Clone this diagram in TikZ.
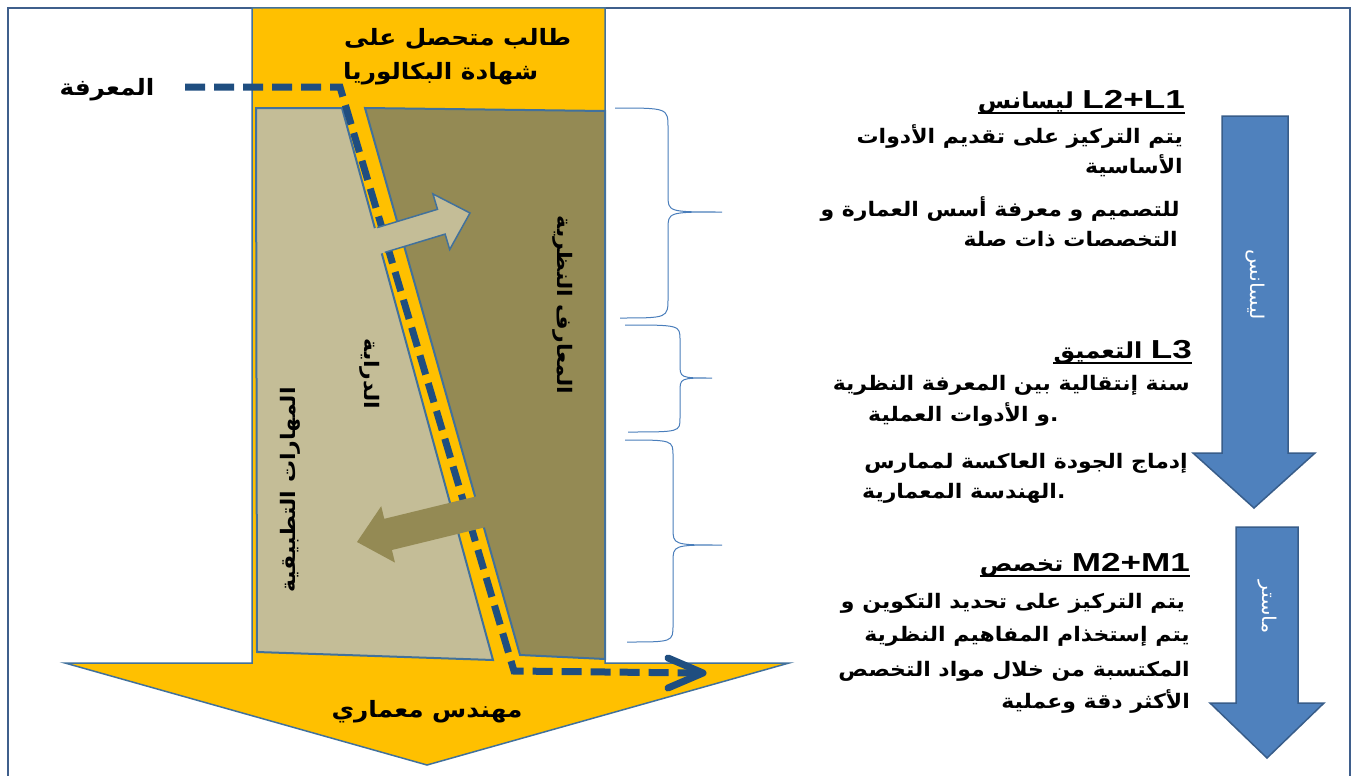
\documentclass[tikz,border=0pt]{standalone}
\usepackage{fontspec}
\setmainfont{Liberation Sans}
\TeXXeTstate=1
\newfontfamily\arb[Script=Arabic,FakeStretch=1.1]{DejaVu Sans Bold}
\newfontfamily\arr[Script=Arabic,FakeStretch=1.1]{DejaVu Sans}
\newfontfamily\latb[FakeStretch=1.35]{Liberation Sans Bold}
\newcommand\rtl[1]{\beginR #1\endR}
\newcommand\lat[1]{\beginL{\latb\fontsize{26}{30}\selectfont #1}\endL}
\definecolor{yel}{HTML}{FFC000}
\definecolor{bord}{HTML}{41719C}
\definecolor{framec}{HTML}{3F5F8C}
\definecolor{tanl}{HTML}{C4BD97}
\definecolor{tand}{HTML}{948A54}
\definecolor{dashc}{HTML}{1F4E80}
\definecolor{barrow}{HTML}{4F81BD}
\definecolor{barrowb}{HTML}{385D8A}
\definecolor{bracec}{HTML}{4A7EBB}
\tikzset{
  txt/.style={inner sep=0pt, font=\arb\fontsize{20}{24}\selectfont},
  hdr/.style={inner sep=0pt, font=\arb\fontsize{22}{26}\selectfont},
  ttl/.style={inner sep=0pt, font=\arb\fontsize{22.5}{26}\selectfont},
  lbl/.style={inner sep=0pt, font=\arb\fontsize{22.5}{26}\selectfont},
  rot/.style={inner sep=0pt, font=\arb\fontsize{20}{24}\selectfont},
  wl/.style={inner sep=0pt, text=white, font=\arr\fontsize{19}{22}\selectfont},
  uline/.style={black, line width=1.6pt},
  brc/.style={bracec, line width=1pt},
  dline/.style={dashc, line width=7pt, dash pattern=on 20pt off 9pt},
  barr/.style={fill=barrow, draw=barrowb, line width=1.5pt},
}
\begin{document}
\begin{tikzpicture}[x=1pt,y=-1pt]
\useasboundingbox (0,0) rectangle (1354,776);
\fill[white] (0,0) rectangle (1354,776);
% outer frame
\draw[framec, line width=2.5pt] (8,776) -- (8,8) -- (1350,8) -- (1350,776);
% yellow column with big arrow
\filldraw[fill=yel, draw=bord, line width=1.5pt] (252,8) -- (605,8) -- (605,663) -- (789,663) -- (427,765) -- (65,663) -- (252,663) -- cycle;
% polygons
\filldraw[fill=tanl, draw=bord, line width=2pt] (256,108) -- (342,108) -- (493,660) -- (257,652) -- cycle;
\filldraw[fill=tand, draw=bord, line width=2pt] (365,108) -- (605,111) -- (605,659) -- (520,655) -- cycle;
% dashed path
\coordinate (ds) at (185,87);
\coordinate (d1) at (340,87);
\coordinate (d2) at (514,671);
\coordinate (d3) at (697,673);
\coordinate (de) at (703,673);
\draw[dline] (ds) -- (d1) -- (d2) -- (d3);
\draw[dashc, line width=7pt, line cap=round, line join=round] (668,658) -- (de) -- (668,688);
% light arrow (to the right)
\fill[tanl] (371.5,229.3) -- (437.5,209.3) -- (432.9,193.9) -- (470,213) -- (449.7,249.5) -- (445.1,234.1) -- (379.1,254.1) -- cycle;
\draw[bord, line width=1.5pt, line join=miter] (377.2,227.6) -- (437.5,209.3) -- (432.9,193.9) -- (470,213) -- (449.7,249.5) -- (445.1,234.1) -- (384.8,252.4);
% dark arrow (to the left)
\fill[tand] (485.1,494.2) -- (384.3,518.8) -- (381.2,506.2) -- (357,542) -- (395.0,562.6) -- (391.9,550.0) -- (492.7,525.4) -- cycle;
% rotated labels
\node[rot, rotate=-90] (nadh) at (563,305) {\rtl{المعارف النظرية}};
\node[rot, rotate=-90] (dir) at (370,374) {\rtl{الدراية}};
\node[rot, rotate=90] (mah) at (290,490) {\rtl{المهارات التطبيقية}};
% title texts
\node[ttl, anchor=base west] (t1) at (344,46) {\rtl{طالب متحصل على}};
\node[ttl, anchor=base west] (t2) at (343,80) {\rtl{شهادة البكالوريا}};
\node[lbl, anchor=base] (maa) at (107,95) {\rtl{المعرفة}};
\node[ttl, anchor=base] (muh) at (427,717) {\rtl{مهندس معماري}};
% braces
\draw[brc] (615,108) .. controls (668,108) .. (668,128) -- (668,195) .. controls (668,212) .. (722,212) .. controls (668,212) .. (668,229) -- (668,298) .. controls (668,318) .. (620,318);
\draw[brc] (625,325) .. controls (680,325) .. (680,340) -- (680,364) .. controls (680,378) .. (712,378) .. controls (680,378) .. (680,392) -- (680,418) .. controls (680,432) .. (628,432);
\draw[brc] (625,440) .. controls (673,440) .. (673,456) -- (673,528) .. controls (673,545) .. (722,545) .. controls (673,545) .. (673,562) -- (673,625) .. controls (673,642) .. (627,642);
% blue arrows
\filldraw[barr] (1222,116) -- (1288,116) -- (1288,453) -- (1315,453) -- (1254,508) -- (1193,453) -- (1222,453) -- cycle;
\filldraw[barr] (1236,527) -- (1298,527) -- (1298,703) -- (1324,703) -- (1267,758) -- (1210,703) -- (1236,703) -- cycle;
\node[wl, rotate=-90] (lis) at (1255,285) {\rtl{ليسانس}};
\node[wl, rotate=-90] (mas) at (1267,607) {\rtl{ماستر}};
% block 1
\node[hdr, anchor=base east] (h1) at (1185,108) {\rtl{\lat{L2+L1} ليسانس}};
\draw[uline] ([yshift=-5pt]h1.base west) -- ([yshift=-5pt]h1.base east);
\node[txt, anchor=base east] (a1) at (1183,143) {\rtl{يتم التركيز على تقديم الأدوات}};
\node[txt, anchor=base east] (a2) at (1183,173) {\rtl{الأساسية}};
\node[txt, anchor=base east] (a3) at (1180,216) {\rtl{للتصميم و معرفة أسس العمارة و}};
\node[txt, anchor=base east] (a4) at (1178,246) {\rtl{التخصصات ذات صلة}};
% block 2
\node[hdr, anchor=base east] (h2) at (1192,358) {\rtl{\lat{L3} التعميق}};
\draw[uline] ([yshift=-5pt]h2.base west) -- ([yshift=-5pt]h2.base east);
\node[txt, anchor=base east] (b1) at (1190,390) {\rtl{سنة إنتقالية بين المعرفة النظرية}};
\node[txt, anchor=base west] (b2) at (868,421) {\rtl{و الأدوات العملية}.};
\node[txt, anchor=base east] (b3) at (1188,468) {\rtl{إدماج الجودة العاكسة لممارس}};
\node[txt, anchor=base west] (b4) at (862,498) {\rtl{الهندسة المعمارية}.};
% block 3
\node[hdr, anchor=base east] (h3) at (1190,571) {\rtl{\lat{M2+M1} تخصص}};
\draw[uline] ([yshift=-5pt]h3.base west) -- ([yshift=-5pt]h3.base east);
\node[txt, anchor=base east] (c1) at (1185,608) {\rtl{يتم التركيز على تحديد التكوين و}};
\node[txt, anchor=base east] (c2) at (1190,641) {\rtl{يتم إستخذام المفاهيم النظرية}};
\node[txt, anchor=base east] (c3) at (1190,676) {\rtl{المكتسبة من خلال مواد التخصص}};
\node[txt, anchor=base east] (c4) at (1190,708) {\rtl{الأكثر دقة وعملية}};
\end{tikzpicture}
\end{document}
